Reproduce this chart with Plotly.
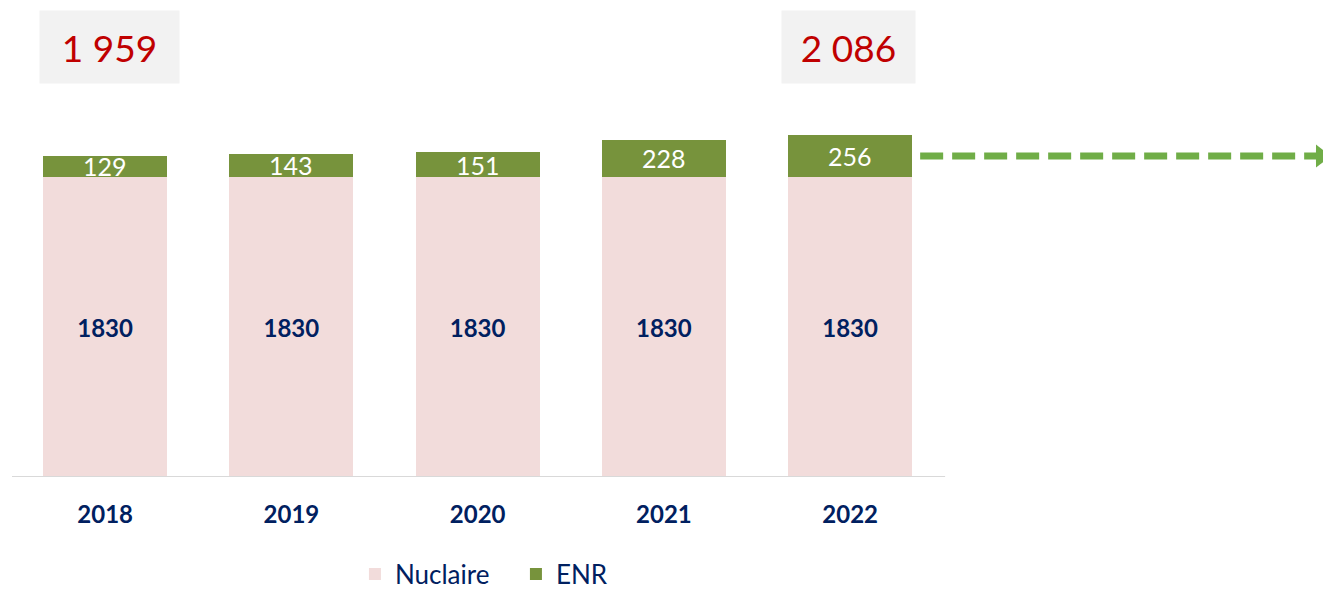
import plotly.graph_objects as go

years = [2018, 2019, 2020, 2021, 2022]
nucleaire = [1830, 1830, 1830, 1830, 1830]
enr = [129, 143, 151, 228, 256]
series_names = ["Nuclaire", "ENR"]

FONT = "Lato"
NAVY = "#002060"
PINK = "#f2dcdb"
GREEN = "#77933c"
ARROW_GREEN = "#70ad47"
RED = "#c00000"

totals = [n + e for n, e in zip(nucleaire, enr)]

# page has an 8px body margin; plot area spans page x 12..1331, y 8..477
PX_PER_UNIT = 300 / 1830
PLOT_H = 469
CAT_W = 186.25
FIG_H = 590

fig = go.Figure()
fig.add_trace(go.Bar(
    x=years, y=nucleaire, name=series_names[0],
    marker=dict(color=PINK, line=dict(width=0)),
    text=[str(v) for v in nucleaire], textposition="inside",
    insidetextanchor="middle", textangle=0,
    textfont=dict(family=FONT, size=24, color=NAVY, weight="bold"),
))
fig.add_trace(go.Bar(
    x=years, y=enr, name=series_names[1],
    marker=dict(color=GREEN, line=dict(width=0)),
    textposition="none",
))

# ENR value labels centred in their segments
for x, n, e in zip(years, nucleaire, enr):
    fig.add_annotation(x=x, y=n + e / 2, text=str(e), showarrow=False,
                       font=dict(family=FONT, size=25, color="white"),
                       yanchor="middle")

# Total boxes for first and last year
def fmt(v):
    return f"{v:,}".replace(",", " ")

for idx, w, xs in [(0, 135, 4), (len(years) - 1, 129, -2)]:
    fig.add_annotation(x=years[idx], y=(477 - 47) / PLOT_H, yref="paper",
                       yanchor="middle", text=fmt(totals[idx]),
                       showarrow=False, bgcolor="#f2f2f2", width=w, height=68,
                       borderpad=2, xshift=xs,
                       font=dict(family=FONT, size=37, color=RED))

# dashed arrow from last bar
ymid = nucleaire[-1] + enr[-1] / 2
fig.add_trace(go.Scatter(
    x=[years[-1] + 0.376, years[-1] + 2.51], y=[ymid, ymid], mode="lines",
    line=dict(color=ARROW_GREEN, width=7, dash="23px,9px"),
    showlegend=False, hoverinfo="skip", cliponaxis=False,
))
fig.add_trace(go.Scatter(
    x=[years[-1] + 2.528], y=[ymid], mode="markers",
    marker=dict(symbol="triangle-right", size=20, color=ARROW_GREEN, line=dict(width=0)),
    showlegend=False, hoverinfo="skip", cliponaxis=False,
))

# axis baseline
fig.add_shape(type="line", x0=years[0] - 0.51, x1=years[-1] + 0.51, y0=0, y1=0,
              line=dict(color="#d9d9d9", width=2), layer="above")

fig.update_layout(
    width=1331, height=FIG_H,
    margin=dict(l=4, r=8, t=0, b=FIG_H - PLOT_H),
    barmode="stack", bargap=0.334,
    plot_bgcolor="white", paper_bgcolor="white",
    font=dict(family=FONT, color=NAVY),
    showlegend=True,
    legend=dict(orientation="h", x=0.26, xanchor="left",
                y=-(574 - 477) / PLOT_H, yanchor="middle",
                font=dict(family=FONT, size=26, color=NAVY), itemwidth=30,
                entrywidth=116, entrywidthmode="pixels",
                traceorder="normal"),
    xaxis=dict(range=[2017.5, 2017.5 + 1319 / CAT_W], tickvals=years,
               ticktext=[str(y) for y in years], showgrid=False, zeroline=False,
               showline=False, ticks="outside", ticklen=16, tickcolor="rgba(0,0,0,0)",
               tickfont=dict(family=FONT, size=24, color=NAVY, weight="bold")),
    yaxis=dict(range=[0, PLOT_H / PX_PER_UNIT], visible=False, showgrid=False),
)

fig.write_html("out.html")
